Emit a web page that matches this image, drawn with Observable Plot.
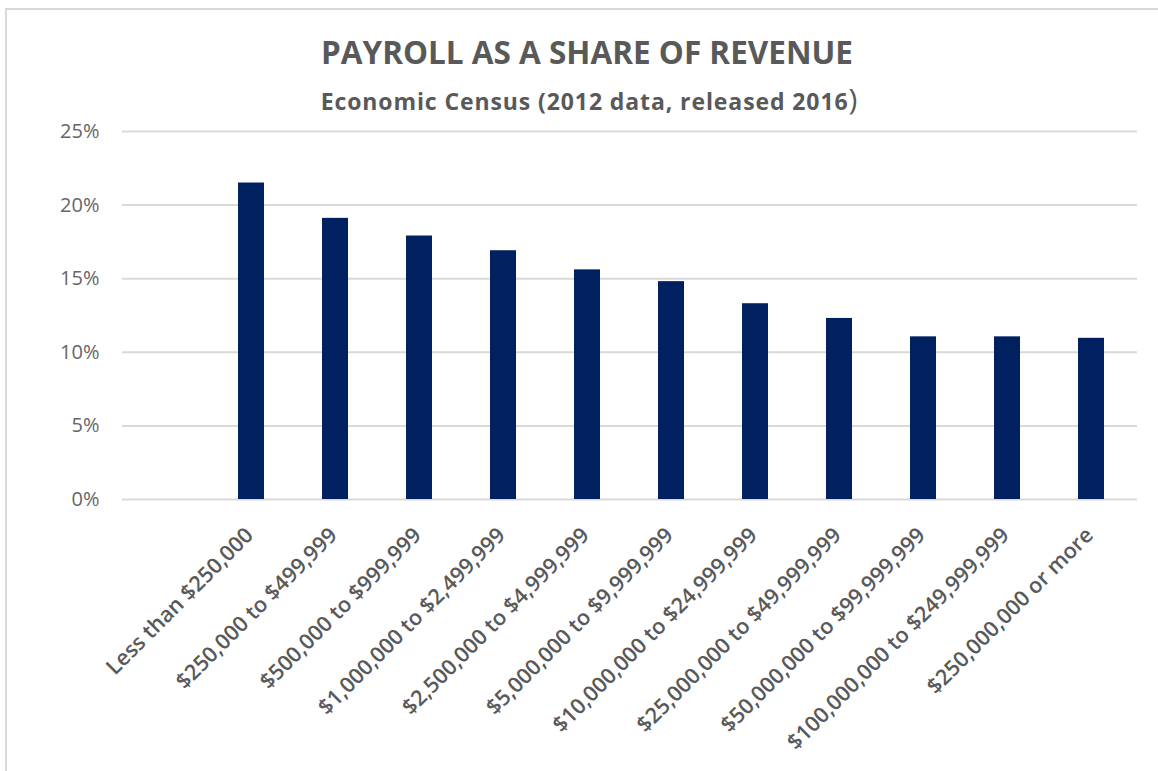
<!DOCTYPE html>
<html><head><meta charset="utf-8">
<script src="https://cdn.jsdelivr.net/npm/d3@7"></script>
<script src="https://cdn.jsdelivr.net/npm/@observablehq/plot@0.6"></script>
<style>
body{margin:0;background:#fff;font-family:"Open Sans",sans-serif;}
#wrap{position:relative;width:1158px;height:771px;overflow:hidden;background:#fff;}
#frame{position:absolute;left:5px;top:8px;width:2000px;height:2000px;border-left:2px solid #d9d9d9;border-top:2px solid #d9d9d9;box-sizing:border-box;}
#chart{position:absolute;left:0;top:0;}
#title{position:absolute;left:0;width:1158px;top:36px;text-align:center;padding-left:16px;box-sizing:border-box;font-size:31.5px;font-weight:700;line-height:31px;color:#595959;white-space:nowrap;}
#subtitle{position:absolute;left:0;width:1158px;top:78px;display:flex;justify-content:center;align-items:baseline;padding-left:20px;box-sizing:border-box;font-size:23px;font-weight:700;letter-spacing:0.9px;color:#595959;white-space:nowrap;}
#subtitle .paren{font-size:30px;font-weight:400;letter-spacing:0;}
</style>
</head><body>
<div id="wrap">
<div id="frame"></div>
<div id="chart"></div>
<div id="title">PAYROLL AS A SHARE OF REVENUE</div>
<div id="subtitle"><span>Economic Census (2012 data, released 2016</span><span class="paren">)</span></div>
</div>
<script>
const categories = ["Less than $250,000", "$250,000 to $499,999", "$500,000 to $999,999", "$1,000,000 to $2,499,999", "$2,500,000 to $4,999,999", "$5,000,000 to $9,999,999", "$10,000,000 to $24,999,999", "$25,000,000 to $49,999,999", "$50,000,000 to $99,999,999", "$100,000,000 to $249,999,999", "$250,000,000 or more"];
const values = [21.5, 19.1, 17.9, 16.9, 15.6, 14.8, 13.3, 12.3, 11.05, 11.05, 10.95];
const yTicks = [0, 5, 10, 15, 20, 25];
const blankCategory = "";

const data = categories.map((c, i) => ({cat: c, val: values[i]}));

const chart = Plot.plot({
  width: 1158,
  height: 771,
  marginTop: 131,
  marginBottom: 272,
  marginLeft: 122,
  marginRight: 21,
  style: {background: "transparent", fontFamily: "Open Sans, sans-serif"},
  x: {domain: [blankCategory, ...categories], paddingInner: 0.69, paddingOuter: 0.345, axis: null},
  y: {domain: [0, 25], axis: null},
  marks: [
    Plot.gridY(yTicks, {stroke: "#d9d9d9", strokeOpacity: 1, strokeWidth: 2}),
    Plot.axisY(yTicks, {tickSize: 0, tickPadding: 23, label: null, tickFormat: d => d + "%", fontSize: 20, color: "#666666"}),
    Plot.barY(data, {x: "cat", y: "val", fill: "#002060"}),
    Plot.text(categories, {x: d => d, frameAnchor: "bottom", rotate: -45, textAnchor: "end", dx: 3, dy: 37, fontSize: 21.6, fontWeight: 600, fill: "#595959"})
  ]
});
document.getElementById("chart").appendChild(chart);
</script>
</body></html>
